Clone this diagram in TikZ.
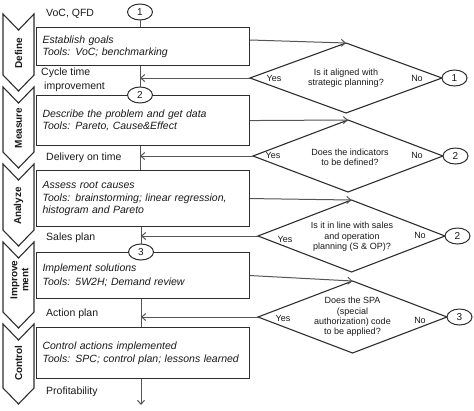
\documentclass[tikz,border=0pt]{standalone}
\usepackage{fontspec}
\setmainfont{Liberation Sans}
\usetikzlibrary{shapes.geometric,arrows.meta}
\definecolor{linec}{HTML}{2E2E2E}
\definecolor{connc}{HTML}{555555}
\definecolor{txtc}{HTML}{1A1A1A}
\begin{document}
\begin{tikzpicture}[x=1pt,y=-1pt,
  box/.style={draw=linec, line width=1.1pt, fill=white, anchor=north west,
    inner xsep=6pt, inner ysep=0pt, text width=201pt, align=left, text=txtc,
    font=\fontsize{10.5}{12.5}\selectfont\itshape},
  chev/.style={draw=linec, line width=1.1pt, fill=white, line join=miter},
  chevlab/.style={rotate=90, font=\fontsize{10}{11}\selectfont\bfseries, text=txtc, align=center, inner sep=0pt},
  outl/.style={anchor=west, font=\fontsize{10.5}{14}\selectfont, text=txtc, inner sep=0pt, align=left},
  dia/.style={diamond, draw=linec, line width=1.1pt, inner sep=0pt, outer sep=0pt, fill=white},
  qtext/.style={font=\fontsize{9}{10.4}\selectfont, text=txtc, align=center, inner sep=0pt},
  yn/.style={font=\fontsize{9}{10}\selectfont, text=txtc, inner sep=0pt},
  circ/.style={ellipse, draw=linec, line width=1pt, fill=white, minimum width=25pt,
    minimum height=16pt, inner sep=0pt, outer sep=0pt, font=\fontsize{10}{11}\selectfont, text=txtc},
  conn/.style={draw=connc, line width=1pt},
  arr/.style={conn, -{Straight Barb[length=4pt,width=7pt]}}
]
\useasboundingbox (0,0) rectangle (474,410);

% chevrons
\draw[chev] (3,14) -- (18.5,30) -- (34,14) -- (34,75) -- (18.5,91) -- (3,75) -- cycle;
\draw[chev] (3,87) -- (18.5,103) -- (34,87) -- (34,152) -- (18.5,168) -- (3,152) -- cycle;
\draw[chev] (3,164) -- (18.5,180) -- (34,164) -- (34,230) -- (18.5,246) -- (3,230) -- cycle;
\draw[chev] (3,242) -- (18.5,258) -- (34,242) -- (34,312) -- (18.5,328) -- (3,312) -- cycle;
\draw[chev] (3,324) -- (18.5,340) -- (34,324) -- (34,388) -- (18.5,404) -- (3,388) -- cycle;
\node[chevlab] (lD) at (18.5,53) {Define};
\node[chevlab] (lM) at (18.5,128) {Measure};
\node[chevlab] (lA) at (18.5,206) {Analyze};
\node[chevlab] (lI) at (19.5,280) {Improve\\ment};
\node[chevlab] (lC) at (18.5,363) {Control};

% boxes
\node[box, minimum height=38pt] (bD) at (36,27) {Establish goals\\Tools: VoC; benchmarking};
\node[box, minimum height=50pt] (bM) at (36,95) {Describe the problem and get data\\Tools: Pareto, Cause\&Effect};
\node[box, minimum height=56pt] (bA) at (36,170) {Assess root causes\\Tools: brainstorming; linear regression,\\histogram and Pareto};
\node[box, minimum height=46pt] (bI) at (36,252) {Implement solutions\\[2pt]Tools: 5W2H; Demand review};
\node[box, minimum height=51pt] (bC) at (36,327) {Control actions implemented\\Tools: SPC; control plan; lessons learned};

% output labels
\node[outl] (oV) at (46,14) {VoC, QFD};
\node[outl] (oCT) at (41,80) {Cycle time\\\hspace{3pt}improvement};
\node[outl] (oDT) at (46,158) {Delivery on time};
\node[outl] (oSP) at (46,238) {Sales plan};
\node[outl] (oAP) at (46,314) {Action plan};
\node[outl] (oPr) at (46,392) {Profitability};

% diamonds
\node[dia, minimum width=192pt, minimum height=70pt] (d1) at (346,78) {};
\node[dia, minimum width=190pt, minimum height=72pt] (d2) at (348,156) {};
\node[dia, minimum width=187pt, minimum height=72pt] (d3) at (351.5,236) {};
\node[dia, minimum width=189pt, minimum height=72pt] (d4) at (352.5,317) {};
\node[qtext] (q1) at (346,78) {Is it aligned with\\strategic planning?};
\node[qtext] (q2) at (350,157) {Does the indicators\\to be defined?};
\node[qtext] (q3) at (352,237) {Is it in line with sales\\and operation\\planning (S \& OP)?};
\node[qtext] (q4) at (352.5,317) {Does the SPA\\(special\\authorization) code\\to be applied?};
\node[yn] (y1) at (274,78) {Yes};
\node[yn] (n1) at (417,78) {No};
\node[yn] (y2) at (273,155) {Yes};
\node[yn] (n2) at (417,155) {No};
\node[yn] (y3) at (285,239) {Yes};
\node[yn] (n3) at (420,235) {No};
\node[yn] (y4) at (283,318) {Yes};
\node[yn] (n4) at (420,320) {No};

% circles
\node[circ] (c1) at (140,12) {1};
\node[circ] (c2) at (140,95) {2};
\node[circ] (c3) at (141,252) {3};
\node[circ, anchor=west] (r1) at (d1.east) {1};
\node[circ, anchor=west] (r2) at (d2.east) {2};
\node[circ, anchor=west] (r3) at (d3.east) {2};
\node[circ, anchor=west] (r4) at (d4.east) {3};

% vertical flow
\draw[conn] (c1) -- (c1 |- bD.north);
\draw[conn] (bD.south -| c2) -- (c2);
\draw[conn] (bM.south -| c2) -- (bA.north -| c2);
\draw[conn] (bA.south -| c3) -- (c3);
\draw[conn] (bI.south -| c3) -- (bC.north -| c3);
\coordinate (fin) at (141,405);
\draw[arr] (bC.south -| fin) -- (fin);

% boxes to diamonds
\draw[arr] (bD.north east) ++(0,13) -- (d1.north);
\draw[arr] (bM.east) -- (d2.north);
\draw[arr] (bA.east) -- (d3.north);
\draw[arr] (bI.east) -- (d4.north);

% yes branches
\draw[arr] (d1.west) -- (d1.west -| c2);
\draw[arr] (d2.west) -- (d2.west -| c2);
\draw[arr] (d3.west) -- (d3.west -| c3);
\draw[arr] (d4.west) -- (d4.west -| c3);
\end{tikzpicture}
\end{document}
